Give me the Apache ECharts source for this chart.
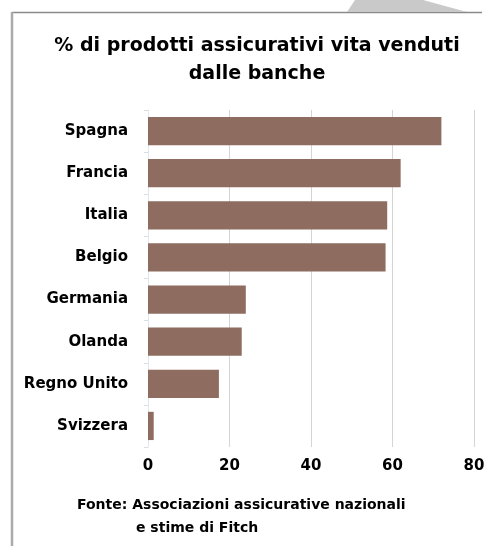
<!DOCTYPE html>
<html>
<head>
<meta charset="utf-8">
<script src="https://cdn.jsdelivr.net/npm/echarts@6/dist/echarts.min.js"></script>
<style>
html,body{margin:0;padding:0;background:#fff;}
#c{width:494px;height:546px;}
</style>
</head>
<body>
<div id="c"></div>
<script>
var categories = ['Spagna','Francia','Italia','Belgio','Germania','Olanda','Regno Unito','Svizzera'];
var values = [72, 62, 58.7, 58.3, 24, 23, 17.4, 1.4];
var xTicks = [0, 20, 40, 60, 80];

var FONT = '"DejaVu Sans", sans-serif';
var chart = echarts.init(document.getElementById('c'), null, {renderer:'canvas'});
chart.setOption({
  animation: false,
  backgroundColor: '#ffffff',
  title: {
    text: '% di prodotti assicurativi vita venduti\ndalle banche',
    left: 252, textAlign: 'center', top: 27,
    textStyle: {fontFamily: FONT, fontSize: 19, fontWeight: 'bold', color: '#000', lineHeight: 28}
  },
  grid: {left: 148, right: 20, top: 110, bottom: 99, containLabel: false},
  xAxis: {
    type: 'value', min: xTicks[0], max: xTicks[xTicks.length-1], interval: 20,
    axisLine: {show: false}, axisTick: {show: false},
    splitLine: {show: true, lineStyle: {color: '#d4d4d4', width: 1}},
    axisLabel: {fontFamily: FONT, fontSize: 15, fontWeight: 'bold', color: '#000', margin: 12}
  },
  yAxis: {
    type: 'category', data: categories, inverse: true,
    axisLine: {show: true, lineStyle: {color: '#e2e6ee', width: 1}},
    axisTick: {show: true, length: 4, lineStyle: {color: '#d8dde6'}},
    axisLabel: {fontFamily: FONT, fontSize: 15, fontWeight: 'bold', color: '#000', margin: 20}
  },
  series: [{
    type: 'bar', data: values, barCategoryGap: '33%',
    itemStyle: {color: '#8e6c5f'}
  }],
  graphic: [
    {type: 'polygon', shape: {points: [[355,0],[423,0],[467,12],[347,12]]}, style: {fill: '#c9c9c9'}, z: 1},
    {type: 'line', shape: {x1: 12, y1: 12.5, x2: 482, y2: 12.5}, style: {stroke: '#8a8a8a', lineWidth: 1.5}},
    {type: 'line', shape: {x1: 12, y1: 12, x2: 12, y2: 546}, style: {stroke: '#aaaaaa', lineWidth: 2.5}},
    {type: 'text', x: 77, y: 505, style: {text: 'Fonte: Associazioni assicurative nazionali', font: 'bold 14px ' + FONT, fill: '#000', textVerticalAlign: 'middle'}},
    {type: 'text', x: 136, y: 528, style: {text: 'e stime di Fitch', font: 'bold 14px ' + FONT, fill: '#000', textVerticalAlign: 'middle'}}
  ]
});
</script>
</body>
</html>
